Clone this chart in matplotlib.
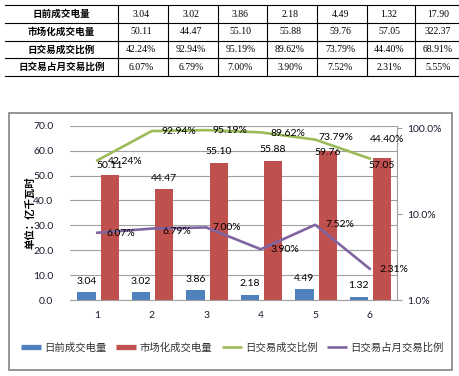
import matplotlib
matplotlib.use('Agg')
import matplotlib.pyplot as plt
from matplotlib.lines import Line2D
from matplotlib.patches import Rectangle
import numpy as np

plt.rcParams['font.family'] = ['Lato', 'Noto Sans CJK SC', 'DejaVu Sans']

# data
days = [1, 2, 3, 4, 5, 6]
day_ahead = [3.04, 3.02, 3.86, 2.18, 4.49, 1.32]
market = [50.11, 44.47, 55.10, 55.88, 59.76, 57.05]
deal_ratio = [42.24, 92.94, 95.19, 89.62, 73.79, 44.40]
month_ratio = [6.07, 6.79, 7.00, 3.90, 7.52, 2.31]

row_names = ['日前成交电量', '市场化成交电量', '日交易成交比例', '日交易占月交易比例']
totals = ['17.90', '322.37', '68.91%', '5.55%']

W, H = 459, 376
fig = plt.figure(figsize=(W / 100, H / 100), dpi=100)


def fx(x):
    return x / W


def fy(y):
    return 1 - y / H


# ---- table on top ----
cjk = ['Noto Sans CJK SC', 'DejaVu Sans']
serif = ['Liberation Serif', 'DejaVu Serif']
row_lines = [5, 23.3, 40.7, 58.3, 76]
col_lines = [118, 168, 218, 267, 317, 367, 415, 465]
for y in row_lines:
    fig.add_artist(Line2D([fx(5), fx(459)], [fy(y), fy(y)], color='black', lw=0.8))
for x in col_lines[:-1]:
    fig.add_artist(Line2D([fx(x), fx(x)], [fy(5), fy(76)], color='black', lw=0.8))

table_rows = [
    [f'{v:.2f}' for v in day_ahead] + [totals[0]],
    [f'{v:.2f}' for v in market] + [totals[1]],
    [f'{v:.2f}%' for v in deal_ratio] + [totals[2]],
    [f'{v:.2f}%' for v in month_ratio] + [totals[3]],
]
for r, name in enumerate(row_names):
    yc = (row_lines[r] + row_lines[r + 1]) / 2
    fig.text(fx(61.5), fy(yc), name, ha='center', va='center', fontsize=6.9,
             fontweight='bold', family=cjk)
    for c, txt in enumerate(table_rows[r]):
        xc = (col_lines[c] + col_lines[c + 1]) / 2 - 2
        fig.text(fx(xc), fy(yc), txt, ha='center', va='center', fontsize=7,
                 family=serif)

# ---- chart frame ----
fig.add_artist(Rectangle((fx(9), fy(370)), fx(452) - fx(9), fy(113) - fy(370),
                         fill=False, edgecolor='#8c8c8c', lw=1.3))

ax = fig.add_axes([fx(70), fy(300), fx(397) - fx(70), fy(125.7) - fy(300)])
x = np.array(days)
ax.bar(x - 0.2, day_ahead, width=0.34, color='#4F81BD', zorder=3)
ax.bar(x + 0.225, market, width=0.33, color='#C0504D', zorder=3)
ax.set_xlim(0.5, 6.5)
ax.set_ylim(0, 70)
ax.set_yticks(np.arange(0, 71, 10))
ax.set_yticklabels([f'{v:.1f}' for v in np.arange(0, 71, 10)])
ax.set_xticks(days)
ax.grid(axis='y', color='#a0a0a0', lw=0.8, zorder=0)
ax.tick_params(axis='y', length=0, pad=12, labelsize=7.5, colors='#1a1a2e')
ax.tick_params(axis='x', length=0, pad=8, labelsize=7.5, colors='#1a1a2e')
for s in ['left', 'top', 'right']:
    ax.spines[s].set_visible(False)
ax.spines['bottom'].set_color('#a0a0a0')

# bar value labels (offsets in pixels)
blue_dy = [11, 11, 11, 11, 10.5, 11]
red_dy = [9.5, 11, 11, 11.5, -1, -7.5]
for i in range(len(days)):
    ax.annotate(f'{day_ahead[i]:.2f}', (x[i] - 0.2, day_ahead[i]),
                xytext=(0, blue_dy[i] * 0.72), textcoords='offset points',
                ha='center', va='center', fontsize=7.5, zorder=5)
    ax.annotate(f'{market[i]:.2f}', (x[i] + 0.225, market[i]),
                xytext=(0, red_dy[i] * 0.72), textcoords='offset points',
                ha='center', va='center', fontsize=7.5, zorder=5)

ax.set_ylabel('')
fig.text(fx(30), fy(213), '单位：亿千瓦时', rotation=90, ha='center', va='center',
         fontsize=7.5, fontweight='bold', family=cjk)

# secondary log axis
ax2 = ax.twinx()
ax2.set_yscale('log')
ax2.set_ylim(0.01, 1.072)
ax2.plot(x, np.array(deal_ratio) / 100, color='#9BBB59', lw=1.9, zorder=4)
ax2.plot(x, np.array(month_ratio) / 100, color='#8064A2', lw=1.9, zorder=4)
ax2.set_yticks([0.01, 0.1, 1.0])
ax2.set_yticklabels(['1.0%', '10.0%', '100.0%'])
ax2.yaxis.set_minor_locator(matplotlib.ticker.NullLocator())
ax2.tick_params(axis='y', direction='out', length=3.5, color='#a0a0a0',
                labelsize=7.5, colors='#1a1a2e', pad=4)
ax2.tick_params(axis='y', which='major', color='#a0a0a0')
for s in ['left', 'top', 'bottom']:
    ax2.spines[s].set_visible(False)
ax2.spines['right'].set_color('#a0a0a0')

green_off = [(11, 1.5), (10, 0), (6, 0), (10, 1), (3, -2), (0, -19)]
purple_off = [(9.5, 0.5), (11, 2.5), (6, 0.5), (9.5, 0.5), (10, 0), (9.5, 0.5)]
for i in range(len(days)):
    dx, dy = green_off[i]
    ax2.annotate(f'{deal_ratio[i]:.2f}%', (x[i], deal_ratio[i] / 100),
                 xytext=(dx * 0.72, -dy * 0.72), textcoords='offset points',
                 ha='left', va='center', fontsize=7.5, zorder=6)
    dx, dy = purple_off[i]
    ax2.annotate(f'{month_ratio[i]:.2f}%', (x[i], month_ratio[i] / 100),
                 xytext=(dx * 0.72, -dy * 0.72), textcoords='offset points',
                 ha='left', va='center', fontsize=7.5, zorder=6)

# legend
handles = [
    Line2D([], [], color='#4F81BD', lw=3.8, solid_capstyle='butt'),
    Line2D([], [], color='#C0504D', lw=3.8, solid_capstyle='butt'),
    Line2D([], [], color='#9BBB59', lw=1.9, solid_capstyle='butt'),
    Line2D([], [], color='#8064A2', lw=1.9, solid_capstyle='butt'),
]
labels = ['日前成交电量', '市场化成交电量', '日交易成交比例', '日交易占月交易比例']
fig.legend(handles, labels, loc='center', bbox_to_anchor=(fx(232.5), fy(347.7)),
           ncol=4, frameon=False, prop={'family': cjk, 'size': 7.5},
           labelcolor='#333333', handlelength=1.9, handletextpad=0.3,
           columnspacing=0.95, borderpad=0, borderaxespad=0)

fig.savefig('out.png', dpi=100)
